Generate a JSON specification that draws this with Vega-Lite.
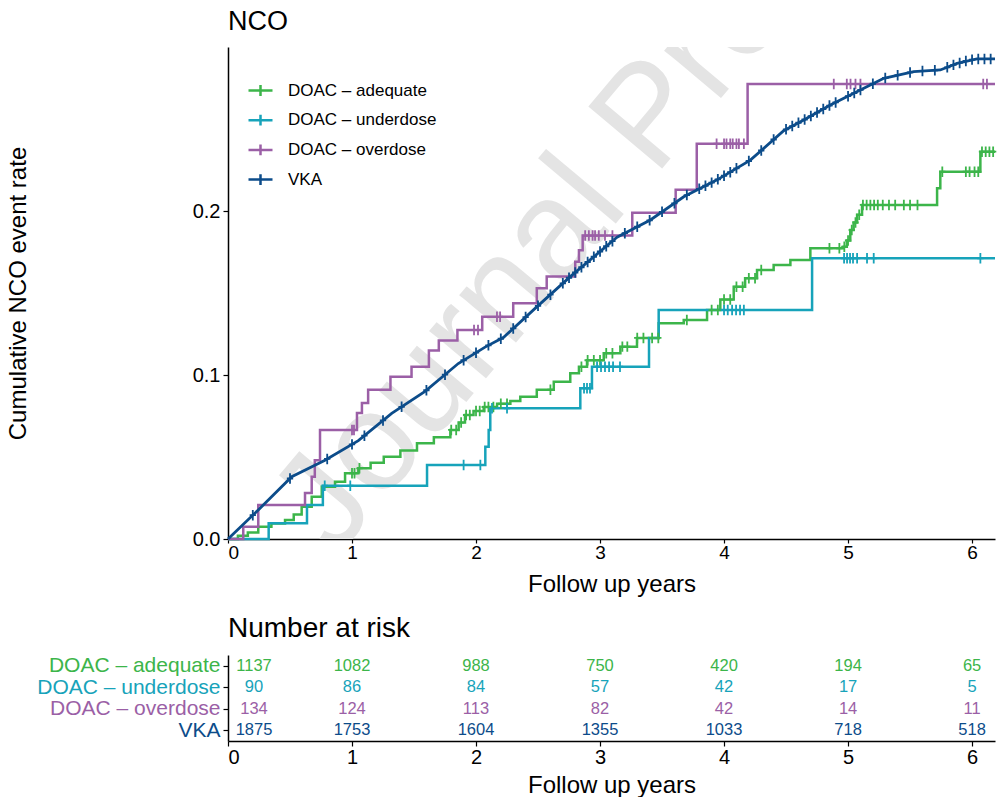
{
  "$schema": "https://vega.github.io/schema/vega-lite/v6.json",
  "background": "white",
  "padding": {"left": 6, "top": 8, "right": 0, "bottom": 0},
  "config": {
    "font": "Liberation Sans",
    "view": {"stroke": null},
    "axis": {"domainColor": "#000000", "domainWidth": 1.5, "tickColor": "#000000", "tickWidth": 1.2, "tickSize": 5, "labelColor": "#000000", "titleColor": "#000000", "titleFontWeight": "normal", "grid": false, "labelFont": "Liberation Sans", "titleFont": "Liberation Sans", "labelLimit": 400},
    "title": {"font": "Liberation Sans", "fontWeight": "normal", "color": "#000000"}
  },
  "datasets": {
    "curves": [
      {"g": "DOAC – adequate", "t": 0, "y": 0}, {"g": "DOAC – adequate", "t": 0.08, "y": 0.002}, {"g": "DOAC – adequate", "t": 0.16, "y": 0.004}, {"g": "DOAC – adequate", "t": 0.244, "y": 0.0075}, {"g": "DOAC – adequate", "t": 0.35, "y": 0.0095}, {"g": "DOAC – adequate", "t": 0.46, "y": 0.0116}, {"g": "DOAC – adequate", "t": 0.53, "y": 0.015}, {"g": "DOAC – adequate", "t": 0.594, "y": 0.0197}, {"g": "DOAC – adequate", "t": 0.675, "y": 0.0258}, {"g": "DOAC – adequate", "t": 0.756, "y": 0.0319}, {"g": "DOAC – adequate", "t": 0.863, "y": 0.0349}, {"g": "DOAC – adequate", "t": 0.944, "y": 0.0401}, {"g": "DOAC – adequate", "t": 1.051, "y": 0.0431}, {"g": "DOAC – adequate", "t": 1.15, "y": 0.0465}, {"g": "DOAC – adequate", "t": 1.256, "y": 0.0502}, {"g": "DOAC – adequate", "t": 1.39, "y": 0.054}, {"g": "DOAC – adequate", "t": 1.524, "y": 0.0584}, {"g": "DOAC – adequate", "t": 1.66, "y": 0.062}, {"g": "DOAC – adequate", "t": 1.793, "y": 0.0665}, {"g": "DOAC – adequate", "t": 1.86, "y": 0.071}, {"g": "DOAC – adequate", "t": 1.911, "y": 0.0756}, {"g": "DOAC – adequate", "t": 1.98, "y": 0.078}, {"g": "DOAC – adequate", "t": 2.062, "y": 0.0805}, {"g": "DOAC – adequate", "t": 2.17, "y": 0.0825}, {"g": "DOAC – adequate", "t": 2.277, "y": 0.0841}, {"g": "DOAC – adequate", "t": 2.357, "y": 0.0868}, {"g": "DOAC – adequate", "t": 2.49, "y": 0.091}, {"g": "DOAC – adequate", "t": 2.627, "y": 0.0959}, {"g": "DOAC – adequate", "t": 2.76, "y": 0.101}, {"g": "DOAC – adequate", "t": 2.83, "y": 0.105}, {"g": "DOAC – adequate", "t": 2.895, "y": 0.109}, {"g": "DOAC – adequate", "t": 3.03, "y": 0.1132}, {"g": "DOAC – adequate", "t": 3.164, "y": 0.1173}, {"g": "DOAC – adequate", "t": 3.298, "y": 0.1226}, {"g": "DOAC – adequate", "t": 3.473, "y": 0.1315}, {"g": "DOAC – adequate", "t": 3.675, "y": 0.1335}, {"g": "DOAC – adequate", "t": 3.863, "y": 0.1396}, {"g": "DOAC – adequate", "t": 3.97, "y": 0.146}, {"g": "DOAC – adequate", "t": 4.078, "y": 0.1538}, {"g": "DOAC – adequate", "t": 4.17, "y": 0.159}, {"g": "DOAC – adequate", "t": 4.266, "y": 0.164}, {"g": "DOAC – adequate", "t": 4.4, "y": 0.167}, {"g": "DOAC – adequate", "t": 4.535, "y": 0.1701}, {"g": "DOAC – adequate", "t": 4.696, "y": 0.1773}, {"g": "DOAC – adequate", "t": 4.965, "y": 0.1782}, {"g": "DOAC – adequate", "t": 4.99, "y": 0.182}, {"g": "DOAC – adequate", "t": 5.018, "y": 0.1884}, {"g": "DOAC – adequate", "t": 5.045, "y": 0.193}, {"g": "DOAC – adequate", "t": 5.073, "y": 0.1977}, {"g": "DOAC – adequate", "t": 5.113, "y": 0.2037}, {"g": "DOAC – adequate", "t": 5.718, "y": 0.2138}, {"g": "DOAC – adequate", "t": 5.744, "y": 0.224}, {"g": "DOAC – adequate", "t": 6.067, "y": 0.2362}, {"g": "DOAC – adequate", "t": 6.185, "y": 0.2362},
      {"g": "DOAC – underdose", "t": 0, "y": 0}, {"g": "DOAC – underdose", "t": 0.328, "y": 0.0096}, {"g": "DOAC – underdose", "t": 0.637, "y": 0.0207}, {"g": "DOAC – underdose", "t": 0.765, "y": 0.0325}, {"g": "DOAC – underdose", "t": 1.605, "y": 0.0451}, {"g": "DOAC – underdose", "t": 2.075, "y": 0.0563}, {"g": "DOAC – underdose", "t": 2.102, "y": 0.0665}, {"g": "DOAC – underdose", "t": 2.115, "y": 0.0797}, {"g": "DOAC – underdose", "t": 2.841, "y": 0.0919}, {"g": "DOAC – underdose", "t": 2.935, "y": 0.1051}, {"g": "DOAC – underdose", "t": 3.395, "y": 0.1226}, {"g": "DOAC – underdose", "t": 3.473, "y": 0.1396}, {"g": "DOAC – underdose", "t": 4.71, "y": 0.1712}, {"g": "DOAC – underdose", "t": 6.185, "y": 0.1712},
      {"g": "DOAC – overdose", "t": 0, "y": 0}, {"g": "DOAC – overdose", "t": 0.123, "y": 0.0075}, {"g": "DOAC – overdose", "t": 0.244, "y": 0.0207}, {"g": "DOAC – overdose", "t": 0.621, "y": 0.028}, {"g": "DOAC – overdose", "t": 0.675, "y": 0.038}, {"g": "DOAC – overdose", "t": 0.7, "y": 0.048}, {"g": "DOAC – overdose", "t": 0.742, "y": 0.0665}, {"g": "DOAC – overdose", "t": 1.04, "y": 0.0768}, {"g": "DOAC – overdose", "t": 1.08, "y": 0.083}, {"g": "DOAC – overdose", "t": 1.13, "y": 0.091}, {"g": "DOAC – overdose", "t": 1.31, "y": 0.099}, {"g": "DOAC – overdose", "t": 1.48, "y": 0.105}, {"g": "DOAC – overdose", "t": 1.62, "y": 0.115}, {"g": "DOAC – overdose", "t": 1.7, "y": 0.121}, {"g": "DOAC – overdose", "t": 1.85, "y": 0.1274}, {"g": "DOAC – overdose", "t": 2.05, "y": 0.1355}, {"g": "DOAC – overdose", "t": 2.3, "y": 0.1437}, {"g": "DOAC – overdose", "t": 2.49, "y": 0.1529}, {"g": "DOAC – overdose", "t": 2.57, "y": 0.16}, {"g": "DOAC – overdose", "t": 2.8, "y": 0.169}, {"g": "DOAC – overdose", "t": 2.83, "y": 0.176}, {"g": "DOAC – overdose", "t": 2.86, "y": 0.185}, {"g": "DOAC – overdose", "t": 3.26, "y": 0.199}, {"g": "DOAC – overdose", "t": 3.61, "y": 0.213}, {"g": "DOAC – overdose", "t": 3.78, "y": 0.241}, {"g": "DOAC – overdose", "t": 4.19, "y": 0.2774}, {"g": "DOAC – overdose", "t": 6.185, "y": 0.2774},
      {"g": "VKA", "t": 0, "y": 0}, {"g": "VKA", "t": 0.244, "y": 0.0177}, {"g": "VKA", "t": 0.514, "y": 0.038}, {"g": "VKA", "t": 0.782, "y": 0.048}, {"g": "VKA", "t": 1.051, "y": 0.06}, {"g": "VKA", "t": 1.32, "y": 0.0766}, {"g": "VKA", "t": 1.589, "y": 0.09}, {"g": "VKA", "t": 1.857, "y": 0.107}, {"g": "VKA", "t": 2.073, "y": 0.117}, {"g": "VKA", "t": 2.223, "y": 0.123}, {"g": "VKA", "t": 2.492, "y": 0.1417}, {"g": "VKA", "t": 2.76, "y": 0.16}, {"g": "VKA", "t": 3.137, "y": 0.184}, {"g": "VKA", "t": 3.406, "y": 0.1945}, {"g": "VKA", "t": 3.675, "y": 0.2087}, {"g": "VKA", "t": 3.944, "y": 0.219}, {"g": "VKA", "t": 4.212, "y": 0.231}, {"g": "VKA", "t": 4.481, "y": 0.249}, {"g": "VKA", "t": 4.643, "y": 0.2555}, {"g": "VKA", "t": 4.857, "y": 0.2646}, {"g": "VKA", "t": 5.127, "y": 0.2748}, {"g": "VKA", "t": 5.288, "y": 0.2809}, {"g": "VKA", "t": 5.53, "y": 0.285}, {"g": "VKA", "t": 5.744, "y": 0.286}, {"g": "VKA", "t": 5.879, "y": 0.29}, {"g": "VKA", "t": 6.04, "y": 0.2927}, {"g": "VKA", "t": 6.185, "y": 0.2927}
    ],
    "censor": [
      {"g": "DOAC – adequate", "t": 1.0, "y": 0.0401}, {"g": "DOAC – adequate", "t": 1.02, "y": 0.0401}, {"g": "DOAC – adequate", "t": 1.06, "y": 0.0431}, {"g": "DOAC – adequate", "t": 1.8, "y": 0.0665}, {"g": "DOAC – adequate", "t": 1.84, "y": 0.0665}, {"g": "DOAC – adequate", "t": 1.88, "y": 0.071}, {"g": "DOAC – adequate", "t": 1.92, "y": 0.0756}, {"g": "DOAC – adequate", "t": 1.95, "y": 0.0756}, {"g": "DOAC – adequate", "t": 2.0, "y": 0.078}, {"g": "DOAC – adequate", "t": 2.03, "y": 0.078}, {"g": "DOAC – adequate", "t": 2.07, "y": 0.0805}, {"g": "DOAC – adequate", "t": 2.1, "y": 0.0805}, {"g": "DOAC – adequate", "t": 2.14, "y": 0.0805}, {"g": "DOAC – adequate", "t": 2.2, "y": 0.0825}, {"g": "DOAC – adequate", "t": 2.25, "y": 0.0825}, {"g": "DOAC – adequate", "t": 2.6, "y": 0.091}, {"g": "DOAC – adequate", "t": 2.85, "y": 0.105}, {"g": "DOAC – adequate", "t": 2.9, "y": 0.109}, {"g": "DOAC – adequate", "t": 2.95, "y": 0.109}, {"g": "DOAC – adequate", "t": 3.0, "y": 0.109}, {"g": "DOAC – adequate", "t": 3.05, "y": 0.1132}, {"g": "DOAC – adequate", "t": 3.1, "y": 0.1132}, {"g": "DOAC – adequate", "t": 3.18, "y": 0.1173}, {"g": "DOAC – adequate", "t": 3.22, "y": 0.1173}, {"g": "DOAC – adequate", "t": 3.3, "y": 0.1226}, {"g": "DOAC – adequate", "t": 3.35, "y": 0.1226}, {"g": "DOAC – adequate", "t": 3.42, "y": 0.1226}, {"g": "DOAC – adequate", "t": 3.47, "y": 0.1226}, {"g": "DOAC – adequate", "t": 3.7, "y": 0.1335}, {"g": "DOAC – adequate", "t": 3.9, "y": 0.1396}, {"g": "DOAC – adequate", "t": 3.95, "y": 0.1396}, {"g": "DOAC – adequate", "t": 4.0, "y": 0.146}, {"g": "DOAC – adequate", "t": 4.05, "y": 0.146}, {"g": "DOAC – adequate", "t": 4.1, "y": 0.1538}, {"g": "DOAC – adequate", "t": 4.15, "y": 0.1538}, {"g": "DOAC – adequate", "t": 4.2, "y": 0.159}, {"g": "DOAC – adequate", "t": 4.25, "y": 0.159}, {"g": "DOAC – adequate", "t": 4.3, "y": 0.164}, {"g": "DOAC – adequate", "t": 4.85, "y": 0.1773}, {"g": "DOAC – adequate", "t": 4.93, "y": 0.1773}, {"g": "DOAC – adequate", "t": 4.97, "y": 0.1782}, {"g": "DOAC – adequate", "t": 5.0, "y": 0.182}, {"g": "DOAC – adequate", "t": 5.03, "y": 0.1884}, {"g": "DOAC – adequate", "t": 5.06, "y": 0.193}, {"g": "DOAC – adequate", "t": 5.09, "y": 0.1977}, {"g": "DOAC – adequate", "t": 5.12, "y": 0.2037}, {"g": "DOAC – adequate", "t": 5.15, "y": 0.2037}, {"g": "DOAC – adequate", "t": 5.18, "y": 0.2037}, {"g": "DOAC – adequate", "t": 5.21, "y": 0.2037}, {"g": "DOAC – adequate", "t": 5.24, "y": 0.2037}, {"g": "DOAC – adequate", "t": 5.28, "y": 0.2037}, {"g": "DOAC – adequate", "t": 5.33, "y": 0.2037}, {"g": "DOAC – adequate", "t": 5.38, "y": 0.2037}, {"g": "DOAC – adequate", "t": 5.45, "y": 0.2037}, {"g": "DOAC – adequate", "t": 5.5, "y": 0.2037}, {"g": "DOAC – adequate", "t": 5.56, "y": 0.2037}, {"g": "DOAC – adequate", "t": 5.76, "y": 0.224}, {"g": "DOAC – adequate", "t": 5.95, "y": 0.224}, {"g": "DOAC – adequate", "t": 5.98, "y": 0.224}, {"g": "DOAC – adequate", "t": 6.02, "y": 0.224}, {"g": "DOAC – adequate", "t": 6.05, "y": 0.224}, {"g": "DOAC – adequate", "t": 6.08, "y": 0.2362}, {"g": "DOAC – adequate", "t": 6.11, "y": 0.2362}, {"g": "DOAC – adequate", "t": 6.14, "y": 0.2362}, {"g": "DOAC – adequate", "t": 6.17, "y": 0.2362},
      {"g": "DOAC – underdose", "t": 0.78, "y": 0.0325}, {"g": "DOAC – underdose", "t": 0.986, "y": 0.0325}, {"g": "DOAC – underdose", "t": 1.9, "y": 0.0451}, {"g": "DOAC – underdose", "t": 2.035, "y": 0.0451}, {"g": "DOAC – underdose", "t": 2.129, "y": 0.0797}, {"g": "DOAC – underdose", "t": 2.25, "y": 0.0797}, {"g": "DOAC – underdose", "t": 2.871, "y": 0.0919}, {"g": "DOAC – underdose", "t": 2.895, "y": 0.0919}, {"g": "DOAC – underdose", "t": 2.919, "y": 0.0919}, {"g": "DOAC – underdose", "t": 2.976, "y": 0.1051}, {"g": "DOAC – underdose", "t": 3.008, "y": 0.1051}, {"g": "DOAC – underdose", "t": 3.04, "y": 0.1051}, {"g": "DOAC – underdose", "t": 3.073, "y": 0.1051}, {"g": "DOAC – underdose", "t": 3.105, "y": 0.1051}, {"g": "DOAC – underdose", "t": 3.161, "y": 0.1051}, {"g": "DOAC – underdose", "t": 4.0, "y": 0.1396}, {"g": "DOAC – underdose", "t": 4.03, "y": 0.1396}, {"g": "DOAC – underdose", "t": 4.065, "y": 0.1396}, {"g": "DOAC – underdose", "t": 4.097, "y": 0.1396}, {"g": "DOAC – underdose", "t": 4.129, "y": 0.1396}, {"g": "DOAC – underdose", "t": 4.16, "y": 0.1396}, {"g": "DOAC – underdose", "t": 4.968, "y": 0.1712}, {"g": "DOAC – underdose", "t": 4.992, "y": 0.1712}, {"g": "DOAC – underdose", "t": 5.016, "y": 0.1712}, {"g": "DOAC – underdose", "t": 5.04, "y": 0.1712}, {"g": "DOAC – underdose", "t": 5.073, "y": 0.1712}, {"g": "DOAC – underdose", "t": 5.153, "y": 0.1712}, {"g": "DOAC – underdose", "t": 5.207, "y": 0.1712}, {"g": "DOAC – underdose", "t": 6.067, "y": 0.1712},
      {"g": "DOAC – overdose", "t": 1.0, "y": 0.0665}, {"g": "DOAC – overdose", "t": 1.016, "y": 0.0665}, {"g": "DOAC – overdose", "t": 1.984, "y": 0.1274}, {"g": "DOAC – overdose", "t": 2.016, "y": 0.1274}, {"g": "DOAC – overdose", "t": 2.169, "y": 0.1355}, {"g": "DOAC – overdose", "t": 2.194, "y": 0.1355}, {"g": "DOAC – overdose", "t": 2.88, "y": 0.185}, {"g": "DOAC – overdose", "t": 2.91, "y": 0.185}, {"g": "DOAC – overdose", "t": 2.94, "y": 0.185}, {"g": "DOAC – overdose", "t": 2.96, "y": 0.185}, {"g": "DOAC – overdose", "t": 2.99, "y": 0.185}, {"g": "DOAC – overdose", "t": 3.04, "y": 0.185}, {"g": "DOAC – overdose", "t": 3.1, "y": 0.185}, {"g": "DOAC – overdose", "t": 3.94, "y": 0.241}, {"g": "DOAC – overdose", "t": 4.0, "y": 0.241}, {"g": "DOAC – overdose", "t": 4.02, "y": 0.241}, {"g": "DOAC – overdose", "t": 4.05, "y": 0.241}, {"g": "DOAC – overdose", "t": 4.07, "y": 0.241}, {"g": "DOAC – overdose", "t": 4.1, "y": 0.241}, {"g": "DOAC – overdose", "t": 4.12, "y": 0.241}, {"g": "DOAC – overdose", "t": 4.16, "y": 0.241}, {"g": "DOAC – overdose", "t": 4.885, "y": 0.2774}, {"g": "DOAC – overdose", "t": 4.99, "y": 0.2774}, {"g": "DOAC – overdose", "t": 5.02, "y": 0.2774}, {"g": "DOAC – overdose", "t": 5.06, "y": 0.2774}, {"g": "DOAC – overdose", "t": 5.1, "y": 0.2774}, {"g": "DOAC – overdose", "t": 6.09, "y": 0.2774}, {"g": "DOAC – overdose", "t": 6.12, "y": 0.2774},
      {"g": "VKA", "t": 0.2, "y": 0.0145}, {"g": "VKA", "t": 0.5, "y": 0.0369}, {"g": "VKA", "t": 0.8, "y": 0.0488}, {"g": "VKA", "t": 1.0, "y": 0.0577}, {"g": "VKA", "t": 1.1, "y": 0.063}, {"g": "VKA", "t": 1.25, "y": 0.0723}, {"g": "VKA", "t": 1.4, "y": 0.0806}, {"g": "VKA", "t": 1.6, "y": 0.0907}, {"g": "VKA", "t": 1.75, "y": 0.1002}, {"g": "VKA", "t": 1.9, "y": 0.109}, {"g": "VKA", "t": 2.0, "y": 0.1136}, {"g": "VKA", "t": 2.1, "y": 0.1181}, {"g": "VKA", "t": 2.2, "y": 0.1221}, {"g": "VKA", "t": 2.3, "y": 0.1284}, {"g": "VKA", "t": 2.4, "y": 0.1353}, {"g": "VKA", "t": 2.5, "y": 0.1422}, {"g": "VKA", "t": 2.6, "y": 0.149}, {"g": "VKA", "t": 2.7, "y": 0.1559}, {"g": "VKA", "t": 2.75, "y": 0.1593}, {"g": "VKA", "t": 2.8, "y": 0.1625}, {"g": "VKA", "t": 2.85, "y": 0.1657}, {"g": "VKA", "t": 2.9, "y": 0.1689}, {"g": "VKA", "t": 2.95, "y": 0.1721}, {"g": "VKA", "t": 3.0, "y": 0.1753}, {"g": "VKA", "t": 3.05, "y": 0.1785}, {"g": "VKA", "t": 3.1, "y": 0.1816}, {"g": "VKA", "t": 3.2, "y": 0.1865}, {"g": "VKA", "t": 3.3, "y": 0.1904}, {"g": "VKA", "t": 3.4, "y": 0.1943}, {"g": "VKA", "t": 3.5, "y": 0.1995}, {"g": "VKA", "t": 3.6, "y": 0.2047}, {"g": "VKA", "t": 3.7, "y": 0.2097}, {"g": "VKA", "t": 3.8, "y": 0.2135}, {"g": "VKA", "t": 3.85, "y": 0.2154}, {"g": "VKA", "t": 3.9, "y": 0.2173}, {"g": "VKA", "t": 3.95, "y": 0.2193}, {"g": "VKA", "t": 4.0, "y": 0.2215}, {"g": "VKA", "t": 4.05, "y": 0.2237}, {"g": "VKA", "t": 4.1, "y": 0.226}, {"g": "VKA", "t": 4.2, "y": 0.2305}, {"g": "VKA", "t": 4.3, "y": 0.2369}, {"g": "VKA", "t": 4.4, "y": 0.2436}, {"g": "VKA", "t": 4.5, "y": 0.2498}, {"g": "VKA", "t": 4.55, "y": 0.2518}, {"g": "VKA", "t": 4.6, "y": 0.2538}, {"g": "VKA", "t": 4.65, "y": 0.2558}, {"g": "VKA", "t": 4.7, "y": 0.2579}, {"g": "VKA", "t": 4.75, "y": 0.26}, {"g": "VKA", "t": 4.8, "y": 0.2622}, {"g": "VKA", "t": 4.85, "y": 0.2643}, {"g": "VKA", "t": 4.9, "y": 0.2662}, {"g": "VKA", "t": 5.0, "y": 0.27}, {"g": "VKA", "t": 5.05, "y": 0.2719}, {"g": "VKA", "t": 5.1, "y": 0.2738}, {"g": "VKA", "t": 5.2, "y": 0.2776}, {"g": "VKA", "t": 5.3, "y": 0.2811}, {"g": "VKA", "t": 5.4, "y": 0.2828}, {"g": "VKA", "t": 5.5, "y": 0.2845}, {"g": "VKA", "t": 5.6, "y": 0.2853}, {"g": "VKA", "t": 5.7, "y": 0.2858}, {"g": "VKA", "t": 5.8, "y": 0.2876}, {"g": "VKA", "t": 5.85, "y": 0.2891}, {"g": "VKA", "t": 5.9, "y": 0.2903}, {"g": "VKA", "t": 5.95, "y": 0.2915}, {"g": "VKA", "t": 6.0, "y": 0.2923}, {"g": "VKA", "t": 6.05, "y": 0.2927}, {"g": "VKA", "t": 6.1, "y": 0.2927}, {"g": "VKA", "t": 6.15, "y": 0.2927}
    ],
    "risk": [
      {"g": "DOAC – adequate", "t": 0, "n": 1137}, {"g": "DOAC – adequate", "t": 1, "n": 1082}, {"g": "DOAC – adequate", "t": 2, "n": 988}, {"g": "DOAC – adequate", "t": 3, "n": 750}, {"g": "DOAC – adequate", "t": 4, "n": 420}, {"g": "DOAC – adequate", "t": 5, "n": 194}, {"g": "DOAC – adequate", "t": 6, "n": 65},
      {"g": "DOAC – underdose", "t": 0, "n": 90}, {"g": "DOAC – underdose", "t": 1, "n": 86}, {"g": "DOAC – underdose", "t": 2, "n": 84}, {"g": "DOAC – underdose", "t": 3, "n": 57}, {"g": "DOAC – underdose", "t": 4, "n": 42}, {"g": "DOAC – underdose", "t": 5, "n": 17}, {"g": "DOAC – underdose", "t": 6, "n": 5},
      {"g": "DOAC – overdose", "t": 0, "n": 134}, {"g": "DOAC – overdose", "t": 1, "n": 124}, {"g": "DOAC – overdose", "t": 2, "n": 113}, {"g": "DOAC – overdose", "t": 3, "n": 82}, {"g": "DOAC – overdose", "t": 4, "n": 42}, {"g": "DOAC – overdose", "t": 5, "n": 14}, {"g": "DOAC – overdose", "t": 6, "n": 11},
      {"g": "VKA", "t": 0, "n": 1875}, {"g": "VKA", "t": 1, "n": 1753}, {"g": "VKA", "t": 2, "n": 1604}, {"g": "VKA", "t": 3, "n": 1355}, {"g": "VKA", "t": 4, "n": 1033}, {"g": "VKA", "t": 5, "n": 718}, {"g": "VKA", "t": 6, "n": 518}
    ]
  },
  "resolve": {"legend": {"color": "independent"}},
  "spacing": 18,
  "vconcat": [
    {
      "width": 767,
      "height": 492,
      "title": {"text": "NCO", "anchor": "start", "frame": "group", "fontSize": 27, "offset": 11},
      "layer": [
        {
          "data": {"values": [{"w": "Journal Pre-proof"}]},
          "mark": {"type": "text", "angle": -50, "fontSize": 140, "color": "#e4e4e4", "align": "left", "baseline": "alphabetic", "font": "Liberation Sans", "clip": true},
          "encoding": {"text": {"field": "w"}, "x": {"datum": 0.86}, "y": {"datum": -0.012}}
        },
        {
          "data": {"name": "curves"},
          "transform": [{"filter": "datum.g !== 'VKA'"}],
          "mark": {"type": "line", "interpolate": "step-after", "strokeWidth": 2.5},
          "encoding": {
            "x": {"field": "t", "type": "quantitative", "scale": {"domain": [0, 6.185], "nice": false}, "axis": {"values": [0, 1, 2, 3, 4, 5, 6], "format": "d", "title": "Follow up years", "labelFontSize": 19, "titleFontSize": 24, "tickSize": 4, "labelPadding": 0, "titlePadding": 10}},
            "y": {"field": "y", "type": "quantitative", "scale": {"domain": [0, 0.3], "nice": false}, "axis": {"values": [0, 0.1, 0.2], "format": ".1f", "title": "Cumulative NCO event rate", "labelFontSize": 20, "titleFontSize": 24, "labelPadding": 3, "titlePadding": 162}},
            "color": {"field": "g", "type": "nominal", "scale": {"domain": ["DOAC – adequate", "DOAC – underdose", "DOAC – overdose", "VKA"], "range": ["#3cb54a", "#17a3ba", "#9b5fa6", "#0c4c8a"]}, "legend": {"title": null, "orient": "none", "legendX": 19, "legendY": 30, "symbolType": "M-1,0H1M0,-0.45V0.45", "symbolSize": 576, "symbolStrokeWidth": 2.5, "labelFontSize": 17, "labelFont": "Liberation Sans", "labelColor": "#000000", "labelOffset": 14, "rowPadding": 5.7, "padding": 0}},
            "order": {"field": "t"}
          }
        },
        {
          "data": {"name": "curves"},
          "transform": [{"filter": "datum.g === 'VKA'"}],
          "mark": {"type": "line", "interpolate": "linear", "strokeWidth": 2.8},
          "encoding": {
            "x": {"field": "t", "type": "quantitative"},
            "y": {"field": "y", "type": "quantitative"},
            "color": {"field": "g", "type": "nominal"},
            "order": {"field": "t"}
          }
        },
        {
          "data": {"name": "censor"},
          "mark": {"type": "point", "shape": "M-0.6,0H0.6M0,-1V1", "filled": false, "size": 110, "strokeWidth": 1.8, "opacity": 1},
          "encoding": {
            "x": {"field": "t", "type": "quantitative"},
            "y": {"field": "y", "type": "quantitative"},
            "color": {"field": "g", "type": "nominal"}
          }
        }
      ]
    },
    {
      "width": 767,
      "height": 86,
      "title": {"text": "Number at risk", "anchor": "start", "frame": "group", "fontSize": 28, "offset": 12},
      "data": {"name": "risk"},
      "encoding": {
        "x": {"field": "t", "type": "quantitative", "scale": {"domain": [0, 6.185], "nice": false}, "axis": {"values": [0, 1, 2, 3, 4, 5, 6], "format": "d", "title": "Follow up years", "labelFontSize": 20, "titleFontSize": 24, "labelPadding": 1, "titlePadding": 6}},
        "y": {"field": "g", "type": "nominal", "sort": ["DOAC – adequate", "DOAC – underdose", "DOAC – overdose", "VKA"], "axis": {"title": null, "labelFontSize": 21, "labelPadding": 3, "labelColor": {"condition": [{"test": "datum.value === 'DOAC – adequate'", "value": "#3cb54a"}, {"test": "datum.value === 'DOAC – underdose'", "value": "#17a3ba"}, {"test": "datum.value === 'DOAC – overdose'", "value": "#9b5fa6"}], "value": "#0c4c8a"}}},
        "text": {"field": "n", "type": "quantitative"},
        "color": {"field": "g", "type": "nominal", "legend": null}
      },
      "layer": [
        {"transform": [{"filter": "datum.t === 0"}], "mark": {"type": "text", "fontSize": 16.5, "dx": 26, "baseline": "middle"}},
        {"transform": [{"filter": "datum.t > 0"}], "mark": {"type": "text", "fontSize": 16.5, "baseline": "middle"}}
      ]
    }
  ]
}
